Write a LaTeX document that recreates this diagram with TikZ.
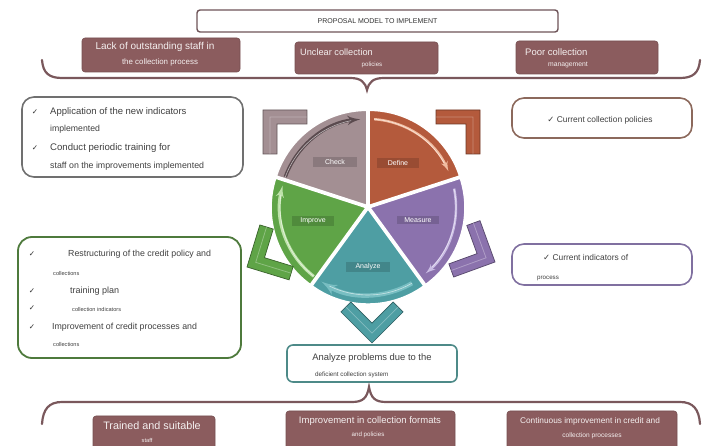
\documentclass[tikz,border=0pt]{standalone}
\usepackage{fontspec}
\setmainfont{Liberation Sans}
\newfontfamily\tickfont{DejaVu Sans}
\usepackage{tikz}
\usetikzlibrary{shapes,arrows,positioning,calc}
\usepackage{xcolor}

\definecolor{mauvebox}{RGB}{139,92,94}
\definecolor{bracecol}{RGB}{122,88,92}
\definecolor{titleline}{RGB}{110,84,88}
\definecolor{checkcol}{RGB}{163,143,147}
\definecolor{definecol}{RGB}{180,90,60}
\definecolor{measurecol}{RGB}{139,114,173}
\definecolor{analyzecol}{RGB}{78,158,163}
\definecolor{improvecol}{RGB}{95,164,71}
\definecolor{checkrim}{RGB}{90,74,78}
\definecolor{definerim}{RGB}{240,188,160}
\definecolor{measurerim}{RGB}{202,188,228}
\definecolor{analyzerim}{RGB}{120,190,194}
\definecolor{improverim}{RGB}{190,226,170}
\definecolor{grayline}{RGB}{112,112,112}
\definecolor{rustline}{RGB}{140,105,92}
\definecolor{greenline}{RGB}{78,122,60}
\definecolor{purpleline}{RGB}{128,112,160}
\definecolor{tealline}{RGB}{77,138,136}

\newcommand{\txtpt}[1]{\fontsize{#1}{#1}\selectfont}

\tikzset{
    titlebox/.style={rectangle, draw=titleline, fill=white, rounded corners=3pt, line width=1.4pt, text=black!80, font=\txtpt{7}},
    brownbox/.style={rectangle, draw=mauvebox!85!black, fill=mauvebox, rounded corners=3pt, line width=0.6pt},
    listbox/.style={rectangle, draw, fill=white, rounded corners=12pt, line width=1.6pt},
    wtxt/.style={inner sep=0pt, text=white!90!mauvebox},
    ktxt/.style={inner sep=0pt, text=black!75},
    tick/.style={inner sep=0pt, text=black!80, font=\tickfont\txtpt{7.5}},
    brace/.style={draw=bracecol, line width=2.2pt, line cap=round},
    slice/.style={draw=white, line width=1.4pt},
    rim/.style={-latex', line width=3pt},
    chevron/.style={line width=0.7pt, line join=miter},
    wheellabel/.style={fill=black, fill opacity=0.15, text opacity=1, text=white!92, inner sep=2pt, font=\txtpt{7}}
}

\begin{document}
\begin{tikzpicture}[x=1pt, y=1pt]
    \useasboundingbox (0,0) rectangle (710,-446);
    \clip (0,0) rectangle (710,-446);

    % title and problems
    \node [titlebox, minimum width=361, minimum height=22] (title) at (377.5,-21) {PROPOSAL MODEL TO IMPLEMENT};
    \node [brownbox, minimum width=158, minimum height=34] (lack) at (161,-55) {};
    \node [brownbox, minimum width=143, minimum height=32] (unclear) at (366.5,-58) {};
    \node [brownbox, minimum width=142, minimum height=33] (poor) at (587,-57.5) {};
    \node [wtxt, font=\txtpt{10}] (lacktop) at (155,-47) {Lack of outstanding staff in};
    \node [wtxt, font=\txtpt{7.9}, below of=lacktop, node distance=15, xshift=5] (lackbot) {the collection process};
    \node [wtxt, font=\txtpt{9.2}, anchor=west] (uncleartop) at (300,-52) {Unclear collection};
    \node [wtxt, font=\txtpt{6.2}] (unclearbot) at (372,-65) {policies};
    \node [wtxt, font=\txtpt{9.5}, anchor=west] (poortop) at (525,-52) {Poor collection};
    \node [wtxt, font=\txtpt{6.8}] (poorbot) at (568,-65) {management};

    \coordinate (toptip) at (367,-90);
    \draw [brace] (42,-60) .. controls (43,-73) and (49,-78) .. (62,-78) -- (350,-78)
        .. controls (361,-78) and (365,-82) .. (toptip) .. controls (369,-82) and (373,-78) .. (384,-78)
        -- (680,-78) .. controls (693,-78) and (699,-73) .. (700,-60);

    % wheel
    \coordinate (hub) at (368,-207);
    \foreach \a/\b/\col in {90/18/definecol, 18/-54/measurecol, -54/-126/analyzecol, -126/-198/improvecol, 162/90/checkcol} {
        \pgfmathsetmacro{\bis}{(\a+\b)/2}
        \filldraw [slice, fill=\col] ($(hub)+(\bis:2)$) -- ++(\a:95) arc (\a:\b:95) -- cycle;
    }
    \foreach \s/\e/\col/\w in {160/95/checkrim/3.4, 86/24/definerim/2.4, 12/-49/measurerim/2.4, -60/-122/analyzerim/4.4, 232/166/improverim/3} {
        \draw [rim, draw=\col, line width=\w pt] ($(hub)+(\s:88)$) arc (\s:\e:88);
        \draw [white, opacity=0.6, line width=0.6pt] ($(hub)+(\s:88)$) arc (\s:\e+6:88);
    }
    \node [wheellabel, minimum width=44] (check) at (335,-162) {Check};
    \node [wheellabel, minimum width=42] (define) at (398,-163) {Define};
    \node [wheellabel, minimum width=42] (measure) at (418,-220) {Measure};
    \node [wheellabel, minimum width=44] (analyze) at (368,-267) {Analyze};
    \node [wheellabel, minimum width=42] (improve) at (313,-221) {Improve};

    % chevrons round the wheel
    \foreach \cx/\cy/\ang/\col in {263/-110/135/checkcol, 480/-110/45/definecol, 495/-262/-25/measurecol, 247/-267/208/improvecol, 372/-343/-90/analyzecol} {
        \filldraw [chevron, fill=\col, draw=\col!60!black, shift={(\cx,\cy)}, rotate=\ang]
            (0,0) -- (-31.1,31.1) -- (-41,21.2) -- (-19.8,0) -- (-41,-21.2) -- (-31.1,-31.1) -- cycle;
        \draw [white, opacity=0.3, line width=0.8pt, shift={(\cx,\cy)}, rotate=\ang]
            (-36,26.1) -- (-9.9,0) -- (-36,-26.1);
    }

    % check
    \node [listbox, draw=grayline, minimum width=221, minimum height=80] (checkbox) at (132.5,-137) {};
    \node [tick] (c1) at (35,-112) {✓};
    \node [ktxt, font=\txtpt{9.5}, anchor=west] (c1a) at (50,-112) {Application of the new indicators};
    \node [ktxt, font=\txtpt{8.7}, anchor=west] (c1b) at (50,-129) {implemented};
    \node [tick] (c2) at (35,-148) {✓};
    \node [ktxt, font=\txtpt{9.6}, anchor=west] (c2a) at (50,-148) {Conduct periodic training for};
    \node [ktxt, font=\txtpt{8.8}, anchor=west] (c2b) at (50,-166) {staff on the improvements implemented};

    % define
    \node [listbox, draw=rustline, minimum width=180, minimum height=40] (definebox) at (602,-118) {};
    \node [ktxt, font=\txtpt{8.4}] (d1) at (600,-120) {{\tickfont ✓} Current collection policies};

    % improve
    \node [listbox, draw=greenline, rounded corners=14pt, line width=1.8pt, minimum width=223, minimum height=121] (improvebox) at (129.5,-297.5) {};
    \node [tick] (i1) at (32,-254) {✓};
    \node [ktxt, font=\txtpt{8.8}, anchor=west] (i1a) at (68,-254) {Restructuring of the credit policy and};
    \node [ktxt, font=\txtpt{5.6}, anchor=west] (i1b) at (53,-273) {collections};
    \node [tick] (i2) at (32,-291) {✓};
    \node [ktxt, font=\txtpt{9}, anchor=west] (i2a) at (70,-291) {training plan};
    \node [tick] (i3) at (32,-308) {✓};
    \node [ktxt, font=\txtpt{5.6}, anchor=west] (i3a) at (72,-309) {collection indicators};
    \node [tick] (i4) at (32,-327) {✓};
    \node [ktxt, font=\txtpt{8.8}, anchor=west] (i4a) at (52,-327) {Improvement of credit processes and};
    \node [ktxt, font=\txtpt{5.6}, anchor=west] (i4b) at (53,-344) {collections};

    % measure
    \node [listbox, draw=purpleline, minimum width=180, minimum height=41] (measurebox) at (602,-264.5) {};
    \node [ktxt, font=\txtpt{8.4}, anchor=west] (m1) at (543,-257) {{\tickfont ✓} Current indicators of};
    \node [ktxt, font=\txtpt{6.2}, anchor=west] (m1b) at (537,-278) {process};

    % analyze
    \node [listbox, draw=tealline, rounded corners=6pt, minimum width=170, minimum height=37] (analyzebox) at (372,-363.5) {};
    \node [ktxt, font=\txtpt{9.4}] (a1) at (372,-358) {Analyze problems due to the};
    \node [ktxt, font=\txtpt{6.3}, anchor=west] (a1b) at (315,-375) {deficient collection system};

    % results
    \coordinate (bottip) at (369,-387);
    \draw [brace] (42,-424) .. controls (43,-409) and (49,-402) .. (62,-402) -- (352,-402)
        .. controls (363,-402) and (367,-398) .. (bottip) .. controls (371,-398) and (375,-402) .. (386,-402)
        -- (680,-402) .. controls (693,-402) and (699,-409) .. (700,-424);
    \node [brownbox, minimum width=122, minimum height=40] (trained) at (154,-436) {};
    \node [brownbox, minimum width=169, minimum height=45] (formats) at (370.5,-433.5) {};
    \node [brownbox, minimum width=170, minimum height=45] (continuous) at (592,-433.5) {};
    \node [wtxt, font=\txtpt{10.8}] (trainedtop) at (152,-426) {Trained and suitable};
    \node [wtxt, font=\txtpt{5.7}] (trainedbot) at (147,-440) {staff};
    \node [wtxt, font=\txtpt{9.5}] (formatstop) at (370,-421) {Improvement in collection formats};
    \node [wtxt, font=\txtpt{6.2}, below of=formatstop, node distance=14, xshift=-2] (formatsbot) {and policies};
    \node [wtxt, font=\txtpt{8.3}] (continuoustop) at (590,-421) {Continuous improvement in credit and};
    \node [wtxt, font=\txtpt{6.6}, below of=continuoustop, node distance=15, xshift=2] (continuousbot) {collection processes};
\end{tikzpicture}
\end{document}
